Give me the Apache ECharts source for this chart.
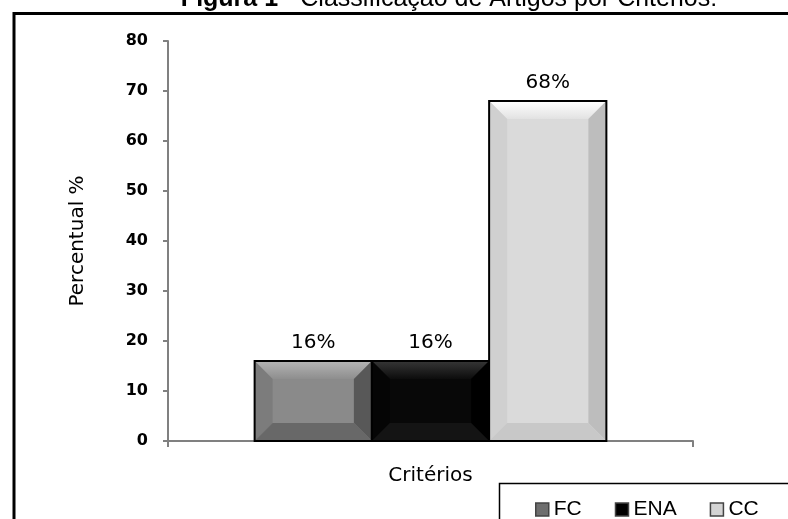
<!DOCTYPE html>
<html>
<head>
<meta charset="utf-8">
<script src="https://cdn.jsdelivr.net/npm/echarts@6/dist/echarts.min.js"></script>
<style>
  html, body { margin: 0; padding: 0; background: #fff; }
  #chart { width: 788px; height: 519px; }
</style>
</head>
<body>
<div id="chart"></div>
<script>
// Category and series data
const categories = ['Critérios'];
const seriesNames = ['FC', 'ENA', 'CC'];
const fcValues = [16];
const enaValues = [16];
const ccValues = [68];
const yTicks = { min: 0, max: 80, interval: 10 };

const SANS = '"Liberation Sans", Arial, sans-serif';
const WIDE = '"DejaVu Sans", sans-serif';

// Bevelled bar palettes: face, top, left, right, bottom
const palettes = [
  { face: '#8a8a8a', top: ['#b4b4b4', '#8e8e8e'], left: '#7c7c7c', right: '#585858', bottom: '#686868', legend: '#6e6e6e' },
  { face: '#080808', top: ['#363636', '#0c0c0c'], left: '#050505', right: '#000000', bottom: '#141414', legend: '#000000' },
  { face: '#dadada', top: ['#ffffff', '#e2e2e2'], left: '#d0d0d0', right: '#bdbdbd', bottom: '#c8c8c8', legend: '#d4d4d4' }
];
const valuesBySeries = [fcValues, enaValues, ccValues];
const CATEGORY_FILL = 0.67;   // share of the category band used by the bars
const BEVEL = 18;

function makeRenderItem(seriesIndex) {
  const pal = palettes[seriesIndex];
  return function (params, api) {
    const idx = api.value(0);
    const val = api.value(1);
    const base = api.coord([idx, 0]);
    const top = api.coord([idx, val]);
    const band = api.size([1, 0])[0];
    const barW = band * CATEGORY_FILL / seriesNames.length;
    const x0 = base[0] - band * CATEGORY_FILL / 2 + seriesIndex * barW;
    const x1 = x0 + barW;
    const y0 = top[1];
    const y1 = base[1];
    const b = Math.min(BEVEL, (y1 - y0) / 3, barW / 3);
    const ix0 = x0 + b, ix1 = x1 - b, iy0 = y0 + b, iy1 = y1 - b;
    const poly = (pts, fill) => ({ type: 'polygon', shape: { points: pts }, style: { fill: fill } });
    return {
      type: 'group',
      children: [
        { type: 'rect', shape: { x: x0, y: y0, width: barW, height: y1 - y0 }, style: { fill: pal.face } },
        poly([[x0, y0], [x1, y0], [ix1, iy0], [ix0, iy0]], {
          type: 'linear', x: 0, y: 0, x2: 0, y2: 1,
          colorStops: [{ offset: 0, color: pal.top[0] }, { offset: 1, color: pal.top[1] }]
        }),
        poly([[x0, y0], [ix0, iy0], [ix0, iy1], [x0, y1]], pal.left),
        poly([[x1, y0], [x1, y1], [ix1, iy1], [ix1, iy0]], pal.right),
        poly([[x0, y1], [ix0, iy1], [ix1, iy1], [x1, y1]], pal.bottom),
        { type: 'rect', shape: { x: x0, y: y0, width: barW, height: y1 - y0 },
          style: { fill: 'none', stroke: '#000', lineWidth: 2 } },
        { type: 'text', x: (x0 + x1) / 2, y: y0 - 8,
          style: { text: val + '%', align: 'center', verticalAlign: 'bottom',
                   font: '20px ' + WIDE, fill: '#000' } }
      ]
    };
  };
}

const chart = echarts.init(document.getElementById('chart'));
chart.setOption({
  animation: false,
  textStyle: { fontFamily: SANS },
  title: {
    text: '{b|Figura 1} - Classificação de Artigos por Critérios:',
    left: 444, textAlign: 'center', top: -18,
    textStyle: {
      fontFamily: SANS, fontSize: 25, fontWeight: 'normal', color: '#000',
      rich: { b: { fontFamily: SANS, fontSize: 25, fontWeight: 'bold', color: '#000' } }
    }
  },
  graphic: [
    { type: 'rect', shape: { x: 14, y: 13.5, width: 800, height: 540 },
      style: { fill: 'none', stroke: '#000', lineWidth: 3 }, silent: true },
    { type: 'rect', shape: { x: 499.5, y: 483.5, width: 320, height: 60 },
      style: { fill: '#fff', stroke: '#000', lineWidth: 1.5 }, silent: true, z: 5 }
  ],
  legend: {
    data: seriesNames.map((n, i) => ({
      name: n,
      itemStyle: { color: palettes[i].legend, borderColor: '#444', borderWidth: 1.5 }
    })),
    left: 530, top: 494, itemWidth: 13, itemHeight: 13, itemGap: 33, icon: 'rect',
    textStyle: { fontFamily: SANS, fontSize: 21, color: '#000', padding: [0, 0, 0, 0] },
    z: 10
  },
  grid: { left: 168, right: 95, top: 41, bottom: 78, containLabel: false },
  xAxis: {
    type: 'category', data: categories,
    axisLine: { lineStyle: { color: '#808080', width: 2 } },
    axisTick: { show: true, length: 6, lineStyle: { color: '#808080', width: 2 } },
    axisLabel: { margin: 25, fontFamily: WIDE, fontSize: 20, color: '#000' }
  },
  yAxis: {
    type: 'value', min: yTicks.min, max: yTicks.max, interval: yTicks.interval,
    name: 'Percentual %', nameLocation: 'middle', nameGap: 80, nameRotate: 90,
    nameTextStyle: { fontFamily: WIDE, fontSize: 20, color: '#000' },
    axisLine: { show: true, lineStyle: { color: '#808080', width: 2 } },
    axisTick: { show: true, length: 5, lineStyle: { color: '#808080', width: 2 } },
    splitLine: { show: false },
    axisLabel: { margin: 20, fontFamily: WIDE, fontSize: 16, fontWeight: 'bold', color: '#000' }
  },
  series: seriesNames.map((name, i) => ({
    name, type: 'custom',
    renderItem: makeRenderItem(i),
    itemStyle: { color: palettes[i].legend },
    encode: { x: 0, y: 1 },
    data: valuesBySeries[i].map((v, k) => [k, v])
  }))
});
</script>
</body>
</html>
